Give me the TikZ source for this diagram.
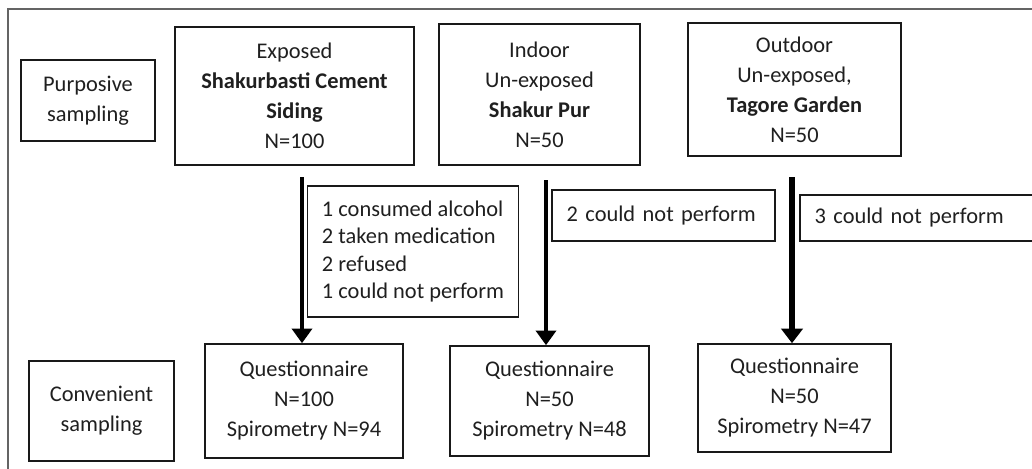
\documentclass[tikz,border=0pt]{standalone}
\usepackage{fontspec}
\setmainfont{Carlito}
\usetikzlibrary{arrows.meta}

\begin{document}
\begin{tikzpicture}[x=0.75pt,y=0.75pt,yscale=-1,xscale=1,
    box/.style={draw=black!90,line width=1.2pt,rectangle,inner sep=0pt,align=center,
      font=\fontsize{16.8}{22.5}\selectfont,text=black!88},
    notebox/.style={box,align=left,inner xsep=11pt,font=\fontsize{16.8}{20.4}\selectfont},
    flow/.style={line width=3pt,-{Triangle[width=15pt,length=11pt]}},
    flowthick/.style={line width=5pt,-{Triangle[width=16pt,length=11pt]}}]
    \clip (0,0) rectangle (1032,468);

    % Outer frame
    \draw [color={rgb, 255:red, 100; green, 100; blue, 100 },line width=1.5pt] (8,9) rectangle (1060,490);

    % Row labels
    \node [box,minimum width=100.5pt,minimum height=60.75pt] (purp) at (88,100.5) {Purposive\\sampling};
    \node [box,minimum width=108.75pt,minimum height=75pt] (conv) at (101.5,411) {Convenient\\sampling};

    % Study groups
    \node [box,minimum width=179.25pt,minimum height=103.5pt] (exposed) at (294.5,96) {Exposed\\\textbf{Shakurbasti Cement}\\\textbf{Siding}\\N=100};
    \node [box,minimum width=150.75pt,minimum height=105.75pt] (indoor) at (539.5,94.5) {Indoor\\Un-exposed\\\textbf{Shakur Pur}\\N=50};
    \node [box,minimum width=159.75pt,minimum height=99.75pt] (outdoor) at (794.5,89.5) {Outdoor\\Un-exposed,\\\textbf{Tagore Garden}\\N=50};

    % Exclusions
    \node [notebox,minimum width=154.5pt,minimum height=98.25pt] (excl1) at (413,251.5) {1 consumed alcohol\\2 taken medication\\2 refused\\1 could not perform};
    \node [notebox,text width=145.25pt,minimum height=38.25pt] (excl2) at (663.5,215.5) {2 could not perform};
    \node [notebox,text width=161.75pt,minimum height=34.5pt] (excl3) at (922.5,218) {3 could not perform};

    % Results
    \node [box,minimum width=148.5pt,minimum height=85.5pt] (quest1) at (304,401) {Questionnaire\\N=100\\Spirometry N=94};
    \node [box,minimum width=149.25pt,minimum height=82.5pt] (quest2) at (549.5,401) {Questionnaire\\N=50\\Spirometry N=48};
    \node [box,minimum width=144.75pt,minimum height=81pt] (quest3) at (794.5,398) {Questionnaire\\N=50\\Spirometry N=47};

    % Arrows
    \coordinate (start1) at (302,177);
    \coordinate (start2) at (546,180);
    \coordinate (start3) at (792,177);
    \draw [flow] (start1) -- (start1 |- quest1.north);
    \draw [flow] (start2) -- (start2 |- quest2.north);
    \draw [flowthick] (start3) -- (start3 |- quest3.north);
\end{tikzpicture}
\end{document}
